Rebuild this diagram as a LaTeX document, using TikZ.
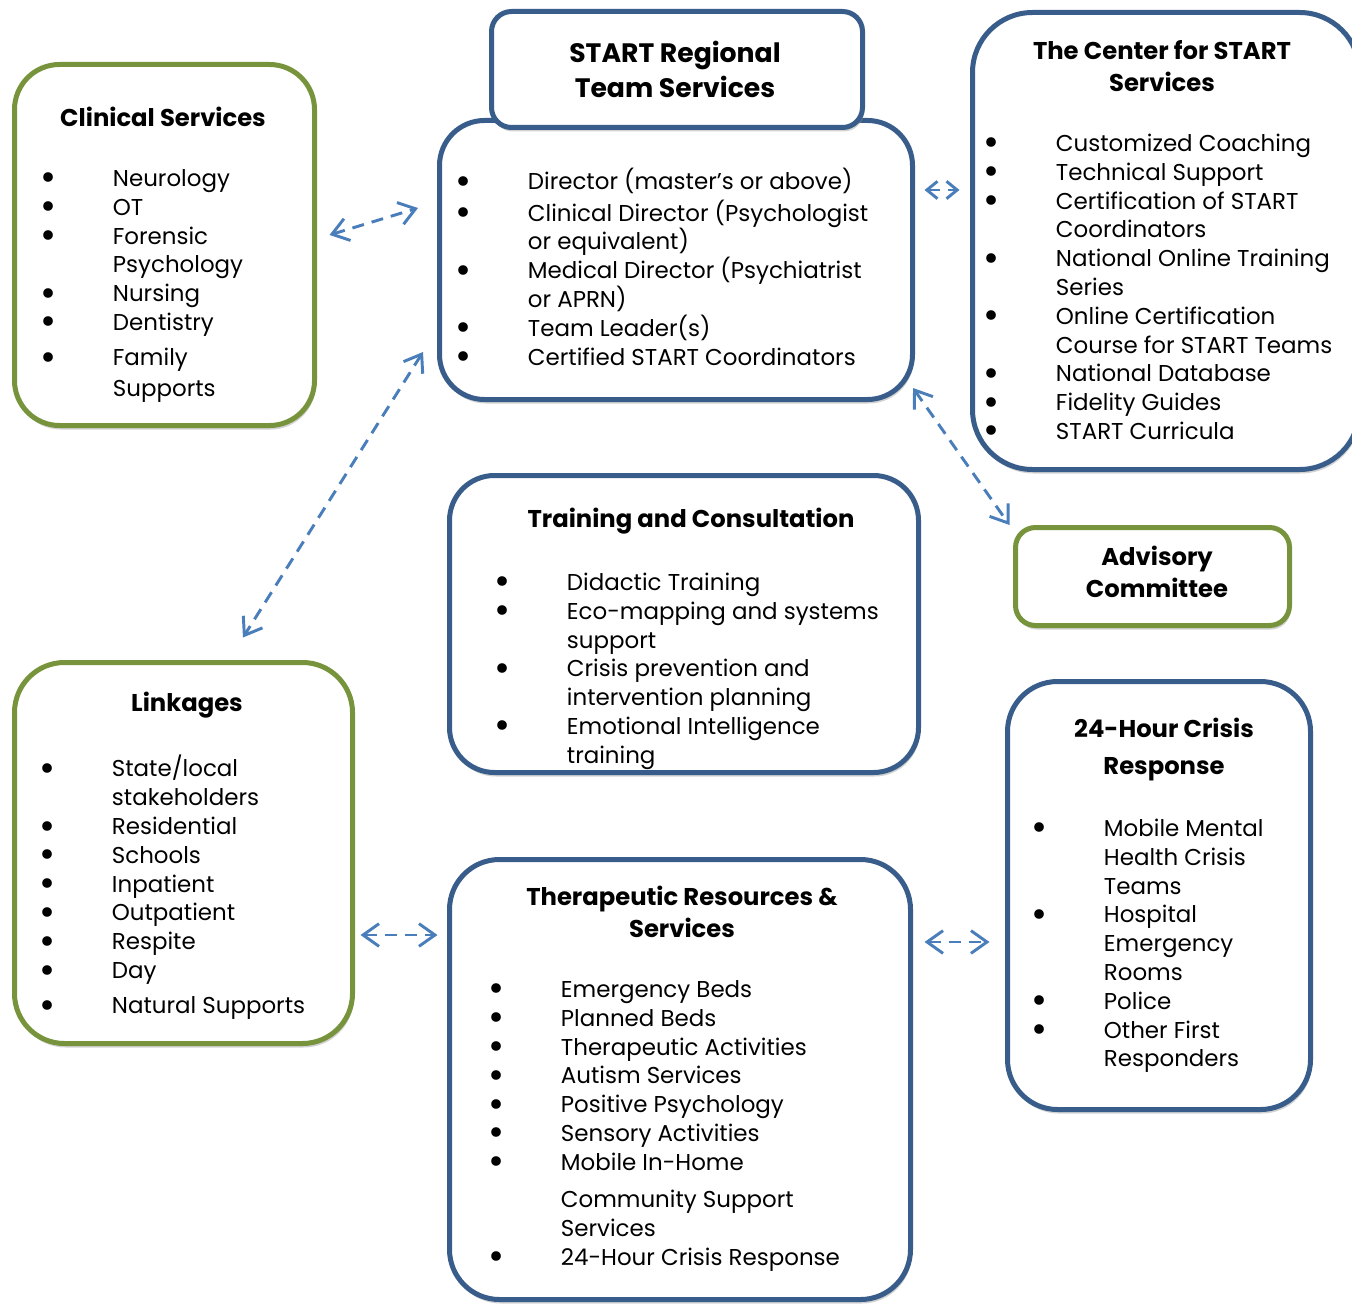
\documentclass[tikz,border=0pt]{standalone}
\usepackage{fontspec}
\setmainfont{Poppins}
\usetikzlibrary{arrows.meta,calc,shadows}
\newlength\pxu \setlength\pxu{0.75pt}
\definecolor{boxblue}{HTML}{385D8A}
\definecolor{boxgreen}{HTML}{77933C}
\definecolor{linkblue}{HTML}{4A7EBB}
\newcommand{\bl}{\makebox[53pt][l]{\hspace*{-1pt}\smash{\raisebox{-3.4pt}{\scalebox{1.7}{\textbullet}}}}}
\newcommand{\nb}{\hspace*{53pt}}

\begin{document}
\begin{tikzpicture}[x=0.75pt,y=-0.75pt,
  box/.style={draw, fill=white, line width=3.75pt, inner sep=0pt,
    drop shadow={shadow xshift=1pt,shadow yshift=-3pt,fill=black!35,opacity=.5}},
  bluebox/.style={box, draw=boxblue},
  greenbox/.style={box, draw=boxgreen},
  title/.style={font=\fontsize{18.2}{24}\selectfont\bfseries, align=center, inner sep=0pt},
  items/.style={font=\fontsize{17.2}{21.6}\selectfont, align=left, anchor=north west, inner sep=0pt},
  link/.style={draw=linkblue, line width=2.2pt, dash pattern=on 9pt off 6pt, <->,
    >={Straight Barb[length=12pt,width=17pt]}}]
\useasboundingbox[fill=white] (0,0) rectangle (1352,1305);

% boxes
\node[greenbox, minimum width=300\pxu, minimum height=361\pxu, rounded corners=45\pxu] (clin) at (164.5,245) {};
\node[bluebox, minimum width=473\pxu, minimum height=279\pxu, rounded corners=45\pxu] (start) at (676,260) {};
\node[bluebox, minimum width=371\pxu, minimum height=116\pxu, rounded corners=20\pxu] (hdr) at (677,69.5) {};
\node[bluebox, minimum width=387\pxu, minimum height=457\pxu, rounded corners=60\pxu] (ctr) at (1166,241) {};
\node[greenbox, minimum width=274\pxu, minimum height=98\pxu, rounded corners=20\pxu] (adv) at (1152.5,576.5) {};
\node[bluebox, minimum width=469\pxu, minimum height=297\pxu, rounded corners=45\pxu] (train) at (684,624) {};
\node[greenbox, minimum width=338\pxu, minimum height=381\pxu, rounded corners=50\pxu] (link) at (183.5,853) {};
\node[bluebox, minimum width=303\pxu, minimum height=428\pxu, rounded corners=50\pxu] (crisis) at (1159,895.5) {};
\node[bluebox, minimum width=461\pxu, minimum height=440\pxu, rounded corners=50\pxu] (thera) at (680,1079.5) {};

% titles
\node[title] (clintitle) at (163,117) {Clinical Services};
\node[title, font=\fontsize{20}{26}\selectfont\bfseries] (hdrtitle) at (675,69.5) {START Regional\\Team Services};
\node[title] (ctrtitle) at (1162,66) {The Center for START\\Services};
\node[title] (advtitle) at (1157,572) {Advisory\\Committee};
\node[title] (traintitle) at (691,521) {Training and Consultation};
\node[title] (linktitle) at (187,705) {Linkages};
\node[title] (crisistitle) at (1164,749.5) {24-Hour Crisis\\[4pt]Response};
\node[title] (theratitle) at (682,912) {Therapeutic Resources \&\\Services};

% lists
\node[items] (clinlist) at (42,166) {\bl Neurology\strut\\ \bl OT\\ \bl Forensic\\ \nb Psychology\\
  \bl Nursing\\ \bl Dentistry\\[5pt] \bl Family\\[1.5pt] \nb Supports};
\node[items] (startlist) at (457,168) {\bl Director (master’s or above)\strut\\
  \bl Clinical Director (Psychologist\\ \nb or equivalent)\\ \bl Medical Director (Psychiatrist\\
  \nb or APRN)\\ \bl Team Leader(s)\\ \bl Certified START Coordinators};
\node[items] (ctrlist) at (985,131) {\bl Customized Coaching\strut\\ \bl Technical Support\\
  \bl Certification of START\\ \nb Coordinators\\ \bl National Online Training\\ \nb Series\\
  \bl Online Certification\\ \nb Course for START Teams\\ \bl National Database\\
  \bl Fidelity Guides\\ \bl START Curricula};
\node[items] (trainlist) at (496,570) {\bl Didactic Training\strut\\ \bl Eco-mapping and systems\\
  \nb support\\ \bl Crisis prevention and\\ \nb intervention planning\\
  \bl Emotional Intelligence\\ \nb training};
\node[items] (linklist) at (41,755) {\bl State/local\strut\\ \nb stakeholders\\ \bl Residential\\
  \bl Schools\\ \bl Inpatient\\ \bl Outpatient\\ \bl Respite\\ \bl Day\\[5pt] \bl Natural Supports};
\node[items] (crisislist) at (1033,816) {\bl Mobile Mental\strut\\ \nb Health Crisis\\ \nb Teams\\
  \bl Hospital\\ \nb Emergency\\ \nb Rooms\\ \bl Police\\ \bl Other First\\ \nb Responders};
\node[items] (theralist) at (490,977) {\bl Emergency Beds\strut\\ \bl Planned Beds\\
  \bl Therapeutic Activities\\ \bl Autism Services\\ \bl Positive Psychology\\
  \bl Sensory Activities\\ \bl Mobile In-Home\\[6pt] \nb Community Support\\[0.5pt]
  \nb Services\\ \bl 24-Hour Crisis Response};

% connectors
\draw[link] ($(clin.east)+(12.5,-10)$) -- ($(start.west)+(-19,-52)$);
\draw[link, >={Straight Barb[length=8pt,width=13pt]}] ($(start.east)+(9.5,-70)$) -- ($(ctr.west)+(-10.5,-51)$);
\draw[link] ($(start.south east)+(-2,-14)$) -- ($(adv.north west)+(-3.5,0)$);
\draw[link] ($(start.west)+(-14,92)$) -- ($(link.north)+(59.5,-22.5)$);
\draw[link] ($(link.east)+(5.5,82)$) -- ($(thera.west)+(-9.5,-144.5)$);
\draw[link] ($(thera.east)+(11.5,-137.5)$) -- ($(crisis.west)+(-15.5,46.5)$);
\end{tikzpicture}
\end{document}
